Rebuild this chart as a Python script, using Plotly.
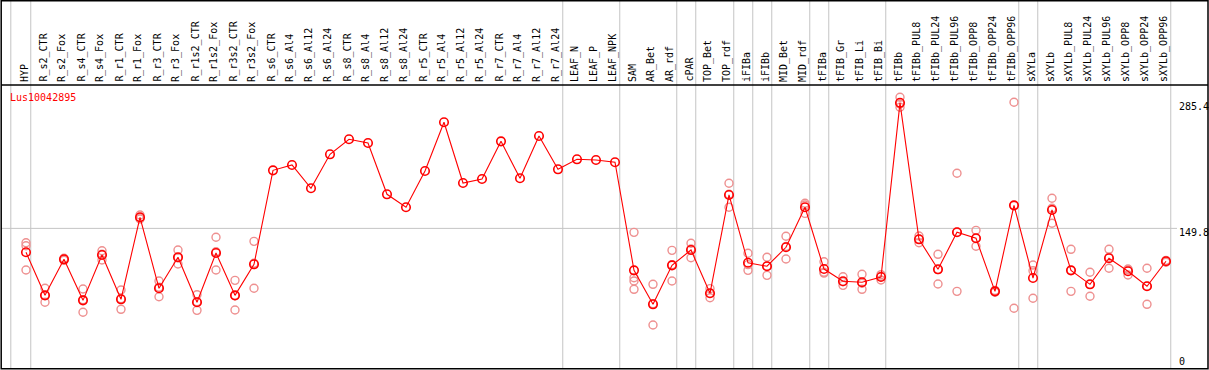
import plotly.graph_objects as go

categories = [
    "HYP", "R_s2_CTR", "R_s2_Fox", "R_s4_CTR", "R_s4_Fox", "R_r1_CTR", "R_r1_Fox",
    "R_r3_CTR", "R_r3_Fox", "R_r1s2_CTR", "R_r1s2_Fox", "R_r3s2_CTR", "R_r3s2_Fox",
    "R_s6_CTR", "R_s6_Al4", "R_s6_Al12", "R_s6_Al24", "R_s8_CTR", "R_s8_Al4",
    "R_s8_Al12", "R_s8_Al24", "R_r5_CTR", "R_r5_Al4", "R_r5_Al12", "R_r5_Al24",
    "R_r7_CTR", "R_r7_Al4", "R_r7_Al12", "R_r7_Al24", "LEAF_N", "LEAF_P", "LEAF_NPK",
    "SAM", "AR_Bet", "AR_rdf", "cPAR", "TOP_Bet", "TOP_rdf", "iFIBa", "iFIBb",
    "MID_Bet", "MID_rdf", "tFIBa", "tFIB_Gr", "tFIB_Li", "tFIB_Bi", "tFIBb",
    "tFIBb_PUL8", "tFIBb_PUL24", "tFIBb_PUL96", "tFIBb_OPP8", "tFIBb_OPP24",
    "tFIBb_OPP96", "sXYLa", "sXYLb", "sXYLb_PUL8", "sXYLb_PUL24", "sXYLb_PUL96",
    "sXYLb_OPP8", "sXYLb_OPP24", "sXYLb_OPP96",
]

mean_values = [
    124.0, 77.5, 116.4, 72.1, 121.1, 73.2, 161.8, 85.1, 118.6, 70.0, 123.2, 77.5, 111.0,
    212.5, 218.3, 193.1, 229.8, 246.0, 242.0, 186.6, 172.6, 211.8, 264.4, 198.8, 203.1,
    243.8, 203.9, 249.6, 213.6, 224.4, 223.7, 221.2,
    104.5, 67.8, 109.9, 126.5, 79.7, 185.9, 112.7, 108.9, 129.4, 172.6, 105.9, 92.7,
    91.6, 97.3, 285.4, 138.0, 105.6, 145.6, 139.1, 81.8, 174.7, 96.2, 169.7, 104.5,
    89.4, 117.5, 103.5, 87.3, 114.3,
]

N = None
rep_a = [
    134.3, 85.1, 117.5, 84.3, 125.7, 83.3, 164.3, 93.0, 126.5, 78.2, 140.2, 93.7, 135.8,
    N, N, N, N, N, N, N, N, N, N, N, N, N, N, N, N, N, N, N,
    145.5, 89.4, 126.1, 133.7, 84.7, 198.5, 122.9, 118.6, 141.3, 176.9, 113.8, 97.6,
    100.2, 99.8, 291.4, 141.6, 121.8, 209.3, 147.7, 82.8, 286.0, 110.3, 182.3, 127.2,
    102.4, 127.2, 105.9, 106.7, 115.3,
]
rep_b = [
    131.1, 77.5, 116.4, 72.8, 121.9, 73.9, 161.2, 86.3, 118.0, 70.5, 124.5, 77.1, 112.1,
    N, N, N, N, N, N, N, N, N, N, N, N, N, N, N, N, N, N, N,
    96.5, 68.5, 110.6, 127.7, 79.5, 186.6, 110.7, 109.0, 130.2, 175.0, 101.5, 92.2,
    90.6, 98.0, 284.2, 138.1, 105.3, 145.7, 139.1, 81.8, 174.5, 104.0, 171.5, 104.5,
    89.3, 118.6, 105.0, 87.4, 114.3,
]
rep_c = [
    104.9, 70.0, 115.3, 59.2, 115.7, 62.4, 159.9, 76.0, 111.3, 61.3, 104.9, 61.7, 85.1,
    N, N, N, N, N, N, N, N, N, N, N, N, N, N, N, N, N, N, N,
    93.0, 45.5, 93.0, 118.1, 74.9, 172.6, 104.5, 99.1, 116.7, 166.0, 102.4, 88.3,
    84.0, 94.1, 280.6, 134.3, 89.7, 81.8, 130.5, 80.8, 63.5, 74.3, 155.3, 81.8,
    76.5, 106.7, 99.5, 67.8, 113.3,
]
rep_d = [N] * 32 + [84.0] + [N] * 28

y_tick_values = [0, 149.8, 285.4]
y_tick_labels = ["0", "149.8", "285.4"]
title_text = "Lus10042895"
group_separators = [-0.8, 0.25, 28.25, 31.25, 34.25, 35.25, 37.25, 38.25, 39.25,
                    41.25, 42.25, 45.25, 52.25, 53.25, 60.25]

W, H = 1209, 370
X0_PX, DX_PX = 26.0, 19.0
Y0_PX, DY_PX = 367.1, 0.926
FONT = "DejaVu Sans Mono"
RED = "#FF0000"
PINK = "#EE9090"
GRID = "#C4C4C4"


def px_x(p):
    return p / W


def px_y(p):
    return 1 - p / H


xs = list(range(len(categories)))

rx, ry = [], []
for reps in (rep_a, rep_b, rep_c, rep_d):
    for i, v in enumerate(reps):
        if v is not None:
            rx.append(i)
            ry.append(v)

fig = go.Figure()
fig.add_trace(go.Scatter(
    x=rx, y=ry, mode="markers",
    marker=dict(symbol="circle-open", size=8, color=PINK, line=dict(width=1.4, color=PINK)),
    hoverinfo="skip", showlegend=False,
))
fig.add_trace(go.Scatter(
    x=xs, y=mean_values, mode="lines+markers",
    line=dict(color=RED, width=1.1),
    marker=dict(symbol="circle-open", size=8.5, color=RED, line=dict(width=1.6, color=RED)),
    showlegend=False,
))

shapes = []
for g in group_separators:
    shapes.append(dict(type="line", xref="x", yref="paper", x0=g, x1=g,
                       y0=px_y(369), y1=px_y(1), line=dict(color=GRID, width=1), layer="below"))
shapes.append(dict(type="line", xref="paper", yref="y", x0=px_x(1), x1=px_x(1177),
                   y0=y_tick_values[1], y1=y_tick_values[1],
                   line=dict(color=GRID, width=1), layer="below"))
# header separator and frame
shapes.append(dict(type="line", xref="paper", yref="paper", x0=px_x(1), x1=px_x(1208),
                   y0=px_y(85), y1=px_y(85), line=dict(color="black", width=1.5)))
shapes.append(dict(type="rect", xref="paper", yref="paper", x0=px_x(1.2), x1=px_x(1208),
                   y0=px_y(368.8), y1=px_y(0.8), line=dict(color="black", width=1.5)))

annotations = []
for i, c in enumerate(categories):
    annotations.append(dict(
        x=i, xref="x", y=px_y(84), yref="paper", text=c, showarrow=False,
        textangle=-90, xanchor="center", yanchor="bottom", xshift=-2,
        font=dict(family=FONT, size=10, color="black"),
    ))
annotations.append(dict(
    x=px_x(8), xref="paper", y=px_y(97), yref="paper", text=title_text, showarrow=False,
    xanchor="left", yanchor="middle", font=dict(family=FONT, size=10, color=RED),
))
for v, lab in zip(y_tick_values, y_tick_labels):
    annotations.append(dict(
        x=px_x(1177), xref="paper", y=v, yref="y", text=lab, showarrow=False,
        xanchor="left", yanchor="middle", yshift=(5.5 if v == 0 else -4),
        font=dict(family=FONT, size=10, color="black"),
    ))

fig.update_layout(
    width=W, height=H,
    margin=dict(l=0, r=0, t=0, b=0, pad=0),
    paper_bgcolor="white", plot_bgcolor="white",
    xaxis=dict(range=[(0 - X0_PX) / DX_PX, (W - X0_PX) / DX_PX], visible=False, fixedrange=True),
    yaxis=dict(range=[(Y0_PX - H) / DY_PX, Y0_PX / DY_PX], visible=False, fixedrange=True),
    shapes=shapes, annotations=annotations,
)

fig.write_html(
    "out.html",
    config={"displayModeBar": False},
    post_script="document.body.style.margin='0px';document.body.style.overflow='hidden';",
)
